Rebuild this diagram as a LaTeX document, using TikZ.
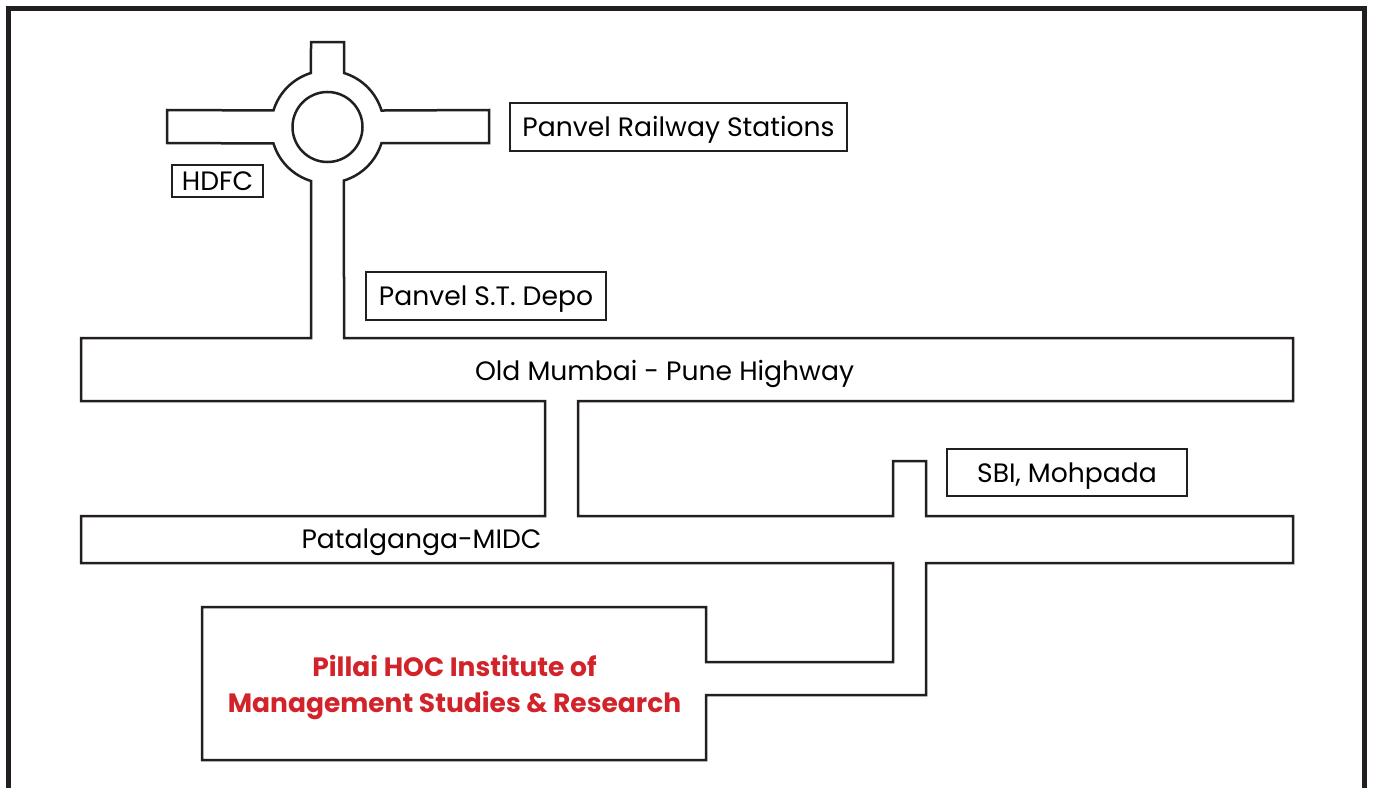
\documentclass[tikz,border=0pt]{standalone}
\usepackage{fontspec}
\setmainfont{Poppins}
\usetikzlibrary{calc}
\definecolor{ink}{HTML}{231F20}
\definecolor{pillred}{RGB}{210,35,42}
\begin{document}
\begin{tikzpicture}[x=1pt,y=-1pt,
  road/.style={draw=ink,line width=2.5pt,line join=miter},
  labelbox/.style={draw=ink,line width=2.5pt,inner sep=0pt,font=\fontsize{26.6}{30}\selectfont,text=black,text height=19pt,text depth=0pt},
  roadlabel/.style={inner sep=0pt,font=\fontsize{26.6}{30}\selectfont,text=black,text height=19pt,text depth=0pt},
  frame/.style={draw=ink,line width=5pt}]
\useasboundingbox (0,0) rectangle (1373,787);
\fill[white] (0,0) rectangle (1373,787);
% outer frame
\draw[frame] (8.5,820) -- (8.5,8.5) -- (1364.5,8.5) -- (1364.5,820);
% road network outline
\draw[road]
  ($(327.5,127)+(197:56.5)$) coordinate (s)
  arc[start angle=197,end angle=253,radius=56.5]
  -- (311,42) -- (344,42) -- (344,73)
  arc[start angle=287,end angle=343,radius=56.5]
  -- (489,110) -- (489,143) -- (381.5,143)
  arc[start angle=377,end angle=433,radius=56.5]
  -- (344,338) -- (1293,338) -- (1293,401) -- (578,401) -- (578,516)
  -- (893,516) -- (893,461) -- (926,461) -- (926,516) -- (1293,516)
  -- (1293,563) -- (926,563) -- (926,695) -- (706,695) -- (706,760)
  -- (202,760) -- (202,607) -- (706,607) -- (706,662) -- (893,662)
  -- (893,563) -- (81,563) -- (81,516) -- (545,516) -- (545,401)
  -- (81,401) -- (81,338) -- (311,338) -- (311,181)
  arc[start angle=107,end angle=163,radius=56.5]
  -- (167,143) -- (167,110) -- cycle;
\draw[road] (327.5,127) circle[radius=35];
% label boxes
\node[labelbox,minimum width=91pt,minimum height=32pt] (hdfc) at (217.5,181) {HDFC};
\node[labelbox,minimum width=337pt,minimum height=48pt] (rail) at (678.5,127) {Panvel Railway Stations};
\node[labelbox,minimum width=240pt,minimum height=48pt] (depo) at (486,296) {Panvel S.T. Depo};
\node[labelbox,minimum width=240pt,minimum height=47pt] (sbi) at (1067,472.5) {SBI, Mohpada};
% road labels
\node[roadlabel] (omp) at (664.5,371) {Old Mumbai - Pune Highway};
\node[roadlabel] (pmidc) at (421.5,539) {Patalganga-MIDC};
% institute
\node[inner sep=0pt,align=center,text=pillred,font=\bfseries\fontsize{26.5}{36}\selectfont] (inst) at (454.5,688) {Pillai HOC Institute of\\Management Studies \& Research};
\end{tikzpicture}
\end{document}
